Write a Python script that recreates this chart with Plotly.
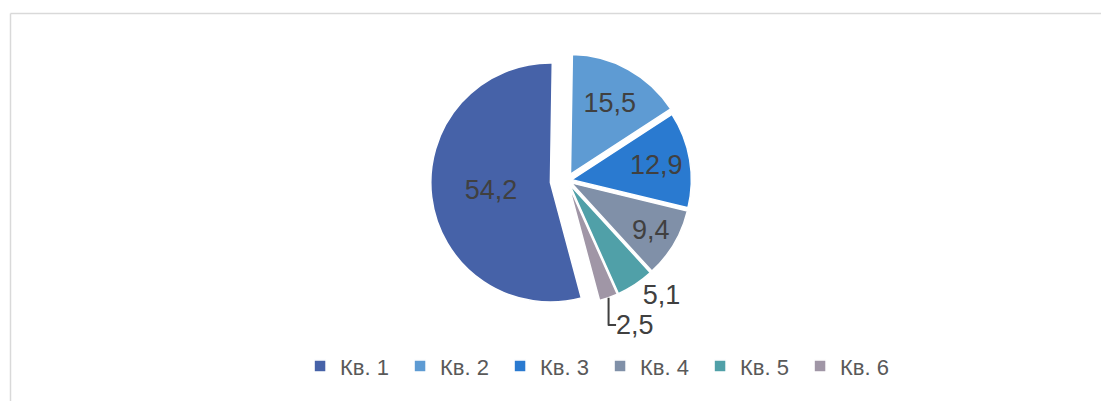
import plotly.graph_objects as go

categories = ["Кв. 1", "Кв. 2", "Кв. 3", "Кв. 4", "Кв. 5", "Кв. 6"]
values = [54.2, 15.5, 12.9, 9.4, 5.1, 2.5]
colors = ["#4662A8", "#5E9BD3", "#2A7AD0", "#8090A8", "#50A0A8", "#A096A6"]
pulls = [0.14, 0.06, 0.04, 0.04, 0.04, 0.04]
text_pos = ["inside", "inside", "inside", "inside", "outside", "outside"]

fig = go.Figure(go.Pie(
    labels=categories,
    values=values,
    sort=False,
    direction="clockwise",
    rotation=165,
    pull=pulls,
    marker=dict(colors=colors, line=dict(color="#FFFFFF", width=1.5)),
    texttemplate="%{value:.1f}",
    textposition=text_pos,
    textfont=dict(family="Liberation Sans, Arial", size=27, color="#404040"),
    insidetextorientation="horizontal",
    domain=dict(x=[0.28, 0.75], y=[0.21, 0.89]),
    hoverinfo="label+value",
))

fig.update_layout(
    width=1101,
    height=401,
    margin=dict(l=0, r=0, t=0, b=0),
    paper_bgcolor="#FFFFFF",
    plot_bgcolor="#FFFFFF",
    separators=", ",
    font=dict(family="Liberation Sans, Arial", color="#595959"),
    legend=dict(
        orientation="h",
        x=0.545, xanchor="center",
        y=0.087, yanchor="middle",
        font=dict(size=22, color="#595959"),
        bgcolor="rgba(0,0,0,0)",
        itemwidth=30,
        entrywidth=55,
        entrywidthmode="pixels",
        traceorder="normal",
    ),
    shapes=[
        dict(type="line", xref="paper", yref="paper",
             x0=10.5 / 1101, x1=1.01, y0=1 - 13.5 / 401, y1=1 - 13.5 / 401,
             line=dict(color="#D9D9D9", width=1.5)),
        dict(type="line", xref="paper", yref="paper",
             x0=10.5 / 1101, x1=10.5 / 1101, y0=-0.01, y1=1 - 13.5 / 401,
             line=dict(color="#D9D9D9", width=1.5)),
    ],
)

fig.write_html("out.html")
